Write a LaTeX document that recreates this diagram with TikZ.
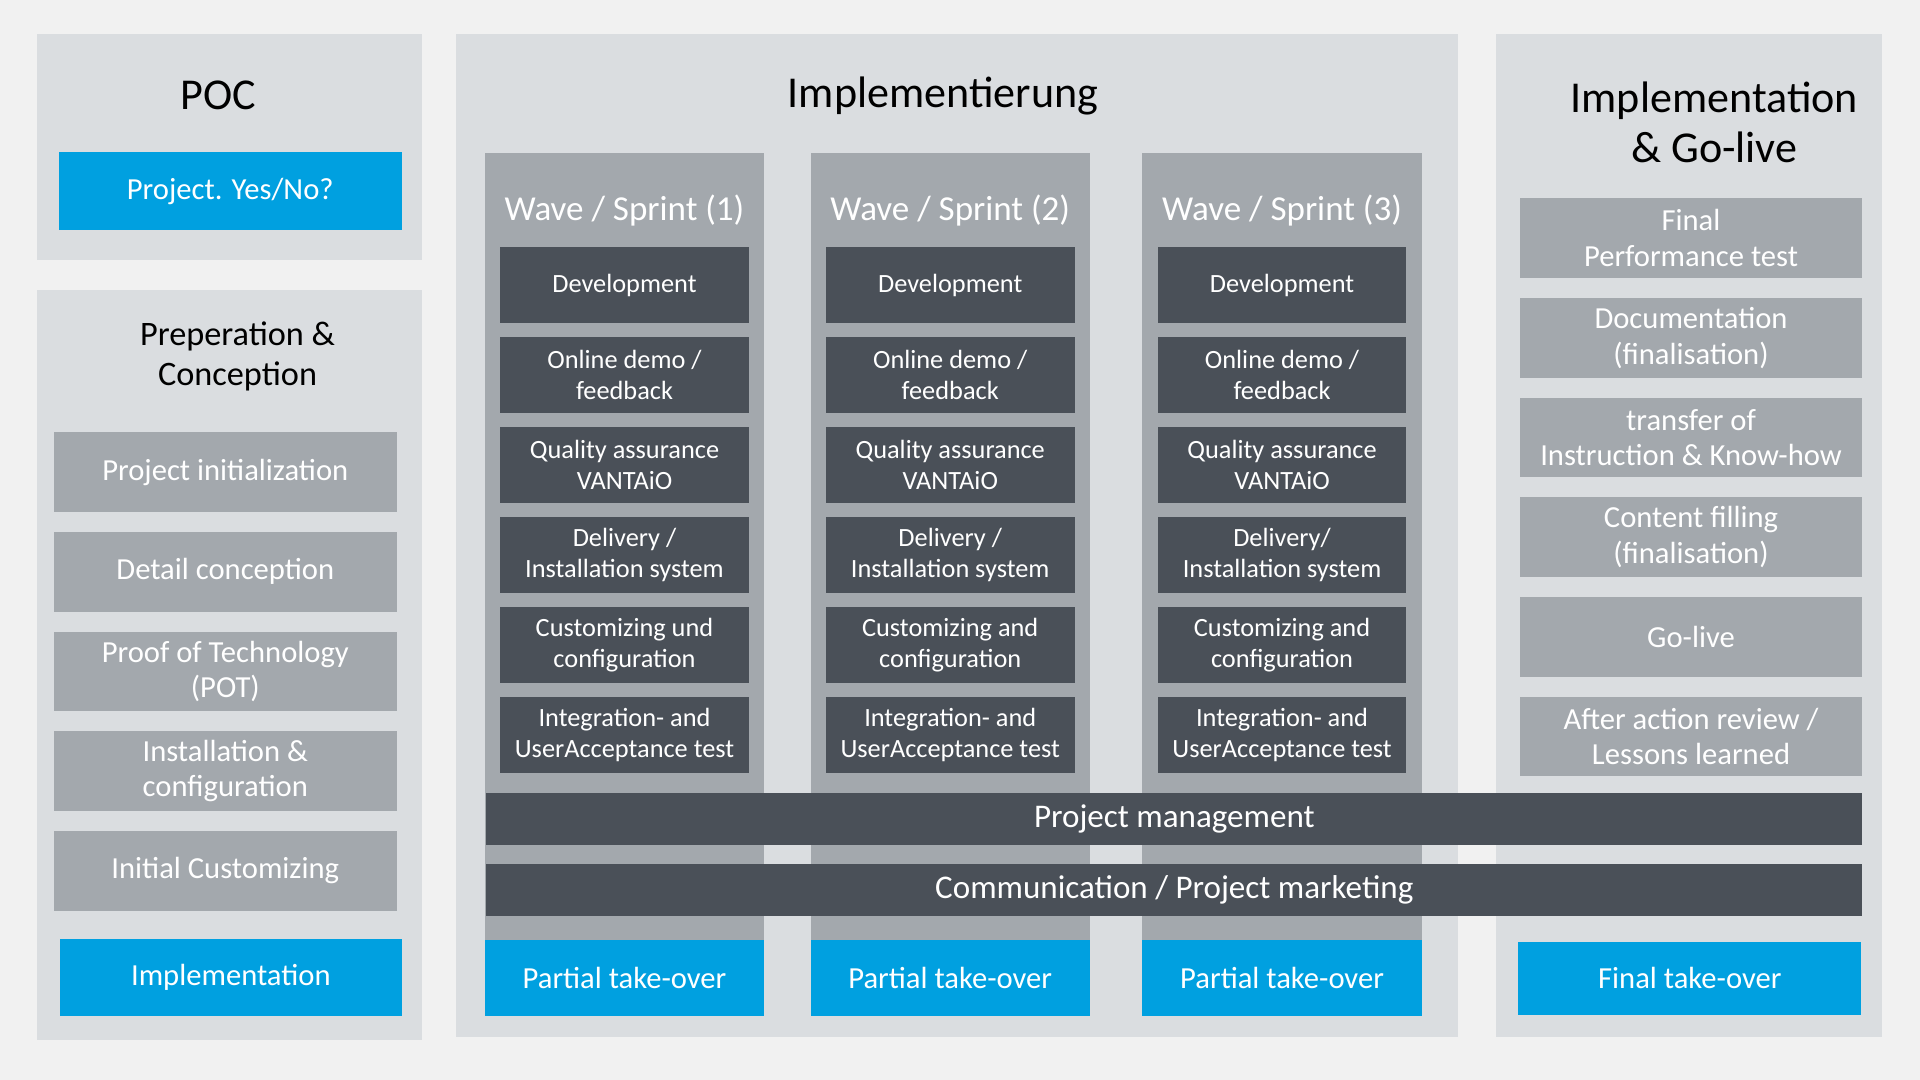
\documentclass[tikz,border=0pt]{standalone}
\usepackage{fontspec}
\setmainfont{Carlito}
\usepackage{tikz}
\usetikzlibrary{positioning}
\definecolor{pagebg}{HTML}{F1F1F1}
\definecolor{panelgray}{HTML}{DADDE0}
\definecolor{stepgray}{HTML}{A3A8AD}
\definecolor{darkslate}{HTML}{4A5058}
\definecolor{brandblue}{HTML}{00A0E0}
\tikzset{
    %Define style for the phase panels
    panel/.style={
           rectangle,
           fill=panelgray,
           inner sep=0pt},
    %Define style for headings
    heading/.style={
           text=black,
           align=center,
           font=\fontsize{36}{41}\selectfont},
    %Define style for grey step boxes
    stepbox/.style={
           rectangle,
           fill=stepgray,
           text=white,
           inner sep=0pt,
           minimum width=280pt,
           minimum height=65pt,
           align=center,
           font=\fontsize{25}{29}\selectfont},
    %Define style for sprint columns
    sprintcol/.style={
           rectangle,
           fill=stepgray,
           inner sep=0pt,
           minimum width=228pt,
           minimum height=643pt},
    sprinttitle/.style={
           text=white,
           font=\fontsize{28.6}{32}\selectfont},
    %Define style for dark task boxes
    task/.style={
           rectangle,
           fill=darkslate,
           text=white,
           inner sep=0pt,
           minimum width=203pt,
           minimum height=62pt,
           align=center,
           font=\fontsize{21.5}{25.5}\selectfont},
    % Define bar style
    bar/.style={
           rectangle,
           fill=darkslate,
           text=white,
           inner sep=0pt,
           minimum width=1124pt,
           minimum height=42pt,
           font=\fontsize{27}{30}\selectfont},
    % Define style for blue milestones
    milestone/.style={
           rectangle,
           fill=brandblue,
           text=white,
           inner sep=0pt,
           minimum width=280pt,
           minimum height=63pt,
           font=\fontsize{25}{29}\selectfont}
}
\begin{document}
\begin{tikzpicture}[x=1pt,y=-1pt]
\useasboundingbox[fill=pagebg] (0,0) rectangle (1568,882);
% panels
\node[panel, minimum width=315pt, minimum height=184pt](poc) at (187.5,120){};
\node[panel, minimum width=315pt, minimum height=612pt](prep) at (187.5,543){};
\node[panel, minimum width=819pt, minimum height=819pt](impl) at (781.5,437.5){};
\node[panel, minimum width=315pt, minimum height=819pt](golive) at (1379.5,437.5){};
% POC
\node[heading](poctitle) at (178,78){POC};
\node[milestone, minimum height=64pt](yesno) at (188,156){Project. Yes/No?};
% preparation
\node[heading, font=\fontsize{28}{33}\selectfont](preptitle) at (194,291){Preperation \&\\Conception};
\begin{scope}[node distance=16pt]
\node[stepbox](init) at (184,385.5){Project initialization};
\node[stepbox, below=of init](detail){Detail conception};
\node[stepbox, below=of detail](pot){Proof of Technology\\(POT)};
\node[stepbox, below=of pot](install){Installation \&\\configuration};
\node[stepbox, below=of install](initcust){Initial Customizing};
\end{scope}
\node[milestone, minimum width=279pt](implstart) at (188.5,798.5){Implementation};
% implementation
\node[heading](impltitle) at (770,78){Implementierung};
\begin{scope}[node distance=11pt]
\foreach \n/\cx/\deliv/\cust in {1/510/{Delivery /}/und, 2/776/{Delivery /}/and, 3/1047/{Delivery/}/and}{
  \node[sprintcol](col\n) at (\cx,446.5){};
  \node[sprinttitle](wave\n) at (\cx,172){Wave / Sprint (\n)};
  \node[task](dev\n) at (\cx,233){Development};
  \node[task, below=of dev\n](demo\n){Online demo /\\feedback};
  \node[task, below=of demo\n](qa\n){Quality assurance\\VANTAiO};
  \node[task, below=of qa\n](deliv\n){\deliv\\Installation system};
  \node[task, below=of deliv\n](cust\n){Customizing \cust\\configuration};
  \node[task, below=of cust\n](test\n){Integration- and\\UserAcceptance test};
  \node[milestone, minimum width=228pt, minimum height=62pt](take\n) at (\cx,799){Partial take-over};
}
\end{scope}
\node[bar](pm) at (959,669){Project management};
\node[bar](comm) at (959,727){Communication / Project marketing};
% go-live
\node[heading](golivetitle) at (1400,100){Implementation\\\& Go-live};
\begin{scope}[node distance=16pt]
\node[stepbox](perf) at (1381,194.5){Final\\Performance test};
\node[stepbox, below=of perf](doc){Documentation\\(finalisation)};
\node[stepbox, below=of doc](transfer){transfer of\\Instruction \& Know-how};
\node[stepbox, below=of transfer](content){Content filling\\(finalisation)};
\node[stepbox, below=of content](live){Go-live};
\node[stepbox, below=of live](review){After action review /\\Lessons learned};
\end{scope}
\node[milestone, minimum height=60pt](final) at (1380,799){Final take-over};
\end{tikzpicture}
\end{document}
